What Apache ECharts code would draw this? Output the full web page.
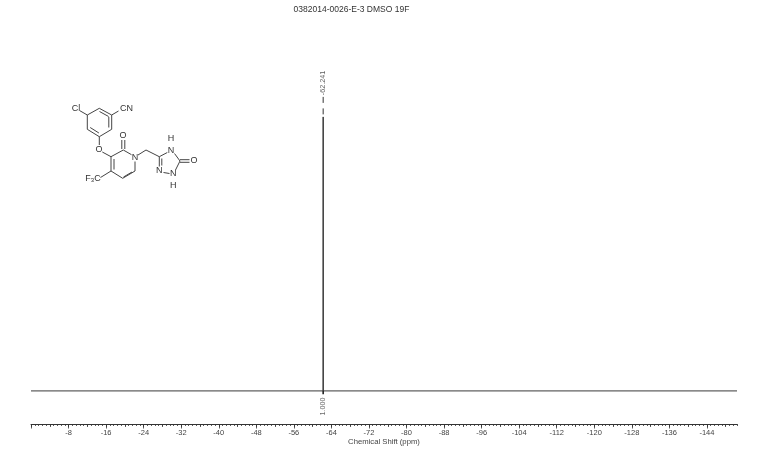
<!DOCTYPE html>
<html><head><meta charset="utf-8">
<style>html,body{margin:0;padding:0;background:#fff}#c{width:759px;height:459px}</style>
<script src="https://cdn.jsdelivr.net/npm/echarts@6/dist/echarts.min.js"></script>
</head><body><div id="c"></div>
<script>
// Spectrum (ppm, intensity in % of scale)
const specPpm = [0, -62.22, -62.241, -62.26, -150.4];
const specInt = [0, 0, 82.8, 0, 0];
const peakPpm = -62.241;
const peakLabel = '-62.241';
const peakLeader = [88.85, 82.8];
const peakLabelAnchor = 88.9;
const integralValue = '1.000';
const integralTick = [0, -1];
const integralLabelAnchor = -1.7;
const tickLabels = [-8,-16,-24,-32,-40,-48,-56,-64,-72,-80,-88,-96,-104,-112,-120,-128,-136,-144];
const title = '0382014-0026-E-3 DMSO 19F';
const axisName = 'Chemical Shift (ppm)';
const xMin = -150.4, xMax = 0;

const minorTicks = [], midTicks = [], majorTicks = [0];
for (let i = 0; i <= 188; i++) {
  const v = -i * 0.8;
  minorTicks.push(+v.toFixed(1));
  if (i % 5 === 0) midTicks.push(+v.toFixed(1));
}
majorTicks.push(...tickLabels);

const xBase = {type:'value', inverse:true, min:xMin, max:xMax, position:'bottom', splitLine:{show:false}, axisLine:{show:false,onZero:false}};
const tickStyle = {color:'#333', width:0.8};
const font = 'Liberation Sans, Arial, sans-serif';

// Molecule sketch (annotation, page pixels)
const bonds = [
 [[87.3,115],[99.3,108.3]],[[99.3,108.3],[111.7,115]],[[111.7,115],[111.7,129.3]],[[111.7,129.3],[99.3,136.7]],[[99.3,136.7],[87.3,129.3]],[[87.3,129.3],[87.3,115]],
 [[99.5,111.5],[108.6,116.5]],[[108.8,117],[108.8,127.5]],[[90.2,127.5],[98.9,133]],
 [[80,110.8],[87.3,115]],[[111.7,115],[118.5,111]],
 [[99.3,136.7],[99.3,145]],[[102.3,152],[111,156.7]],
 [[111,156.7],[123.3,150]],[[123.3,150],[131.5,154.7]],[[135,161.5],[135,171]],[[135,171],[122.7,178.3]],[[122.7,178.3],[111,171]],[[111,171],[111,156.7]],
 [[114,159],[114,169.5]],[[132,172],[123.5,177]],
 [[121.8,149],[121.8,140]],[[124.8,149],[124.8,140]],
 [[111,171],[100.5,177.5]],
 [[138,155],[146,150]],[[146,150],[159.3,156.7]],
 [[159.3,156.7],[167.3,152.5]],[[174.5,153.5],[180,161]],[[180,161],[175.5,170]],[[169.5,173.5],[163.5,172.5]],[[159.3,166.5],[159.3,156.7]],[[161.8,165.5],[161.8,158.5]],
 [[180,159.7],[189.5,159.7]],[[180,162.3],[189.5,162.3]]
];
const atoms = [
 ['Cl',76,108.7],['CN',126.5,108.5],['O',99,150],['N',135,157.2],['O',123,136],
 ['N',171,151],['H',171,139],['O',194,160.5],['N',173.3,174],['H',173.3,185.5],['N',159.3,171]
];
const graphic = bonds.map(b=>({type:'line',silent:true,shape:{x1:b[0][0],y1:b[0][1],x2:b[1][0],y2:b[1][1]},style:{stroke:'#444',lineWidth:1}}))
 .concat(atoms.map(a=>({type:'text',silent:true,x:a[1],y:a[2],style:{text:a[0],fill:'#333',font:'9px '+font,textAlign:'center',textVerticalAlign:'middle'}})))
 .concat([{type:'text',silent:true,x:93,y:178.5,style:{text:'{a|F}{b|3}{a|C}',fill:'#333',textAlign:'center',textVerticalAlign:'middle',rich:{a:{font:'9px '+font,fill:'#333'},b:{font:'6px '+font,fill:'#333',padding:[4,0,0,0]}}}}]);

const chart = echarts.init(document.getElementById('c'));
chart.setOption({
  animation:false,
  backgroundColor:'#fff',
  title:{text:title,left:346.5,top:0,textAlign:'center',textStyle:{fontFamily:font,fontSize:8.5,fontWeight:'normal',color:'#333'}},
  grid:{left:31,right:22,top:60,bottom:35},
  xAxis:[
    Object.assign({},xBase,{axisLine:{show:true,onZero:false,lineStyle:{color:'#333',width:1}},
      axisTick:{show:true,length:2,lineStyle:tickStyle,customValues:minorTicks},
      axisLabel:{show:true,customValues:tickLabels,fontFamily:font,fontSize:7.5,color:'#444',margin:5},
      name:axisName,nameLocation:'middle',nameGap:18,nameMoveOverlap:false,nameTextStyle:{fontFamily:font,fontSize:7.7,color:'#444',verticalAlign:'middle'}}),
    Object.assign({},xBase,{axisTick:{show:true,length:3,lineStyle:tickStyle,customValues:midTicks},axisLabel:{show:false}}),
    Object.assign({},xBase,{axisTick:{show:true,length:4.5,lineStyle:tickStyle,customValues:majorTicks},axisLabel:{show:false}})
  ],
  yAxis:{type:'value',min:-10,max:100,show:false},
  series:[
    {type:'line',name:'spectrum',showSymbol:false,symbol:'none',data:specPpm.map((p,i)=>[p,specInt[i]]),lineStyle:{color:'#222',width:0.9},z:3},
    {type:'line',name:'leader',showSymbol:false,symbol:'none',data:peakLeader.map(v=>[peakPpm,v]),lineStyle:{color:'#333',width:1,type:[6,5.5]}},
    {type:'line',name:'integral',showSymbol:false,symbol:'none',data:integralTick.map(v=>[peakPpm,v]),lineStyle:{color:'#222',width:1.6}},
    {type:'scatter',name:'peakLabel',symbolSize:0,data:[[peakPpm,peakLabelAnchor]],
     label:{show:true,position:'top',distance:1.5,rotate:90,formatter:peakLabel,fontFamily:font,fontSize:7.2,color:'#333',align:'left',verticalAlign:'middle'}},
    {type:'scatter',name:'integralLabel',symbolSize:0,data:[[peakPpm,integralLabelAnchor]],
     label:{show:true,position:'bottom',distance:1,rotate:90,formatter:integralValue,fontFamily:font,fontSize:7.2,color:'#444',align:'right',verticalAlign:'middle'}}
  ],
  graphic:graphic
});
</script></body></html>
